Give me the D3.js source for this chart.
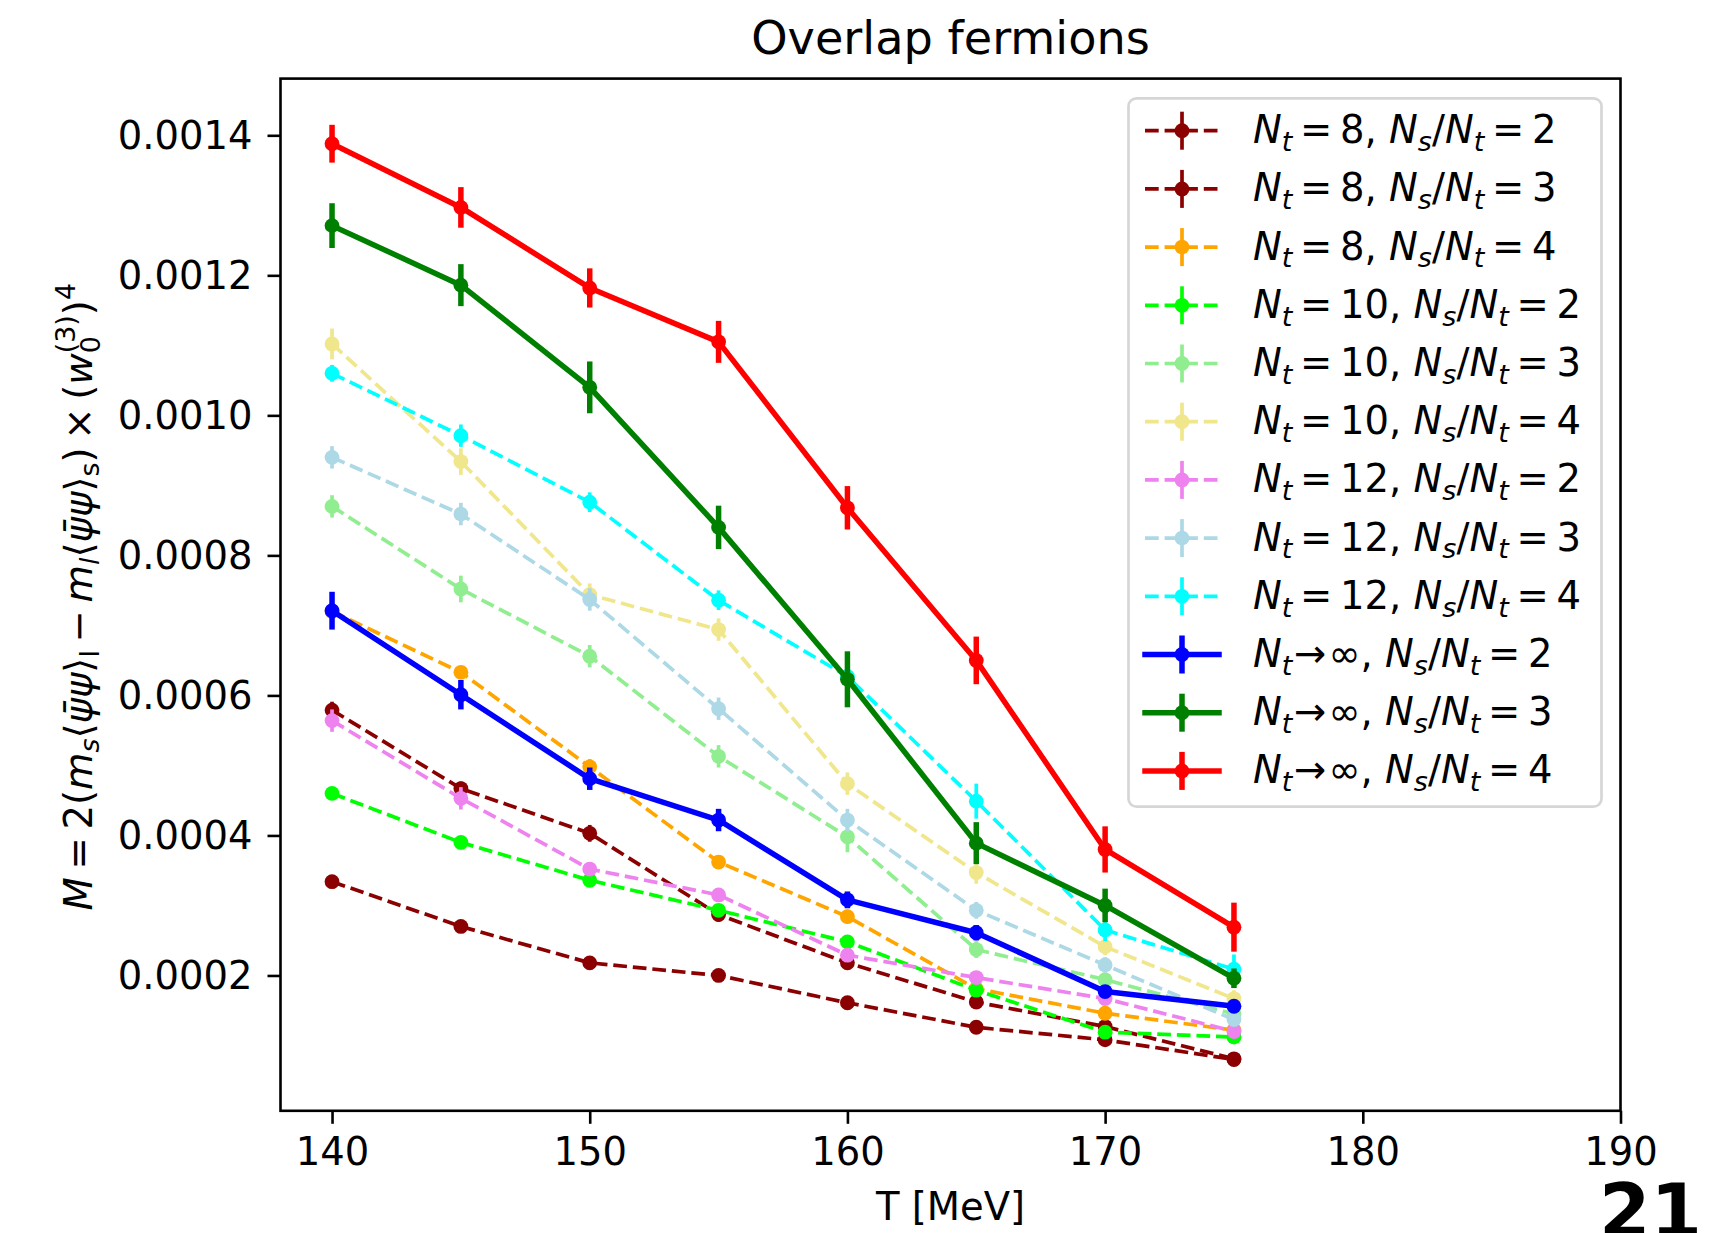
<!DOCTYPE html>
<html><head><meta charset="utf-8">
<script src="https://cdn.jsdelivr.net/npm/d3@7"></script>
<style>
body{margin:0;background:#fff}
svg{display:block}
text{font-family:"DejaVu Sans";fill:#000;white-space:pre}
</style>
</head><body>
<script>
// ---------------- data ----------------
const temperatures = [140, 145, 150, 155, 160, 165, 170, 175];

const nt8_r2     = [0.000334, 0.000270, 0.000218, 0.000200, 0.000161, 0.000126, 0.000108, 0.000080];
const nt8_r2_err = [0.000004, 0.000004, 0.000004, 0.000004, 0.000004, 0.000003, 0.000003, 0.000003];
const nt8_r3     = [0.000579, 0.000467, 0.000403, 0.000287, 0.000218, 0.000162, 0.000127, 0.000081];
const nt8_r3_err = [0.000012, 0.000010, 0.000012, 0.000010, 0.000008, 0.000006, 0.000005, 0.000005];
const nt8_r4     = [0.000720, 0.000633, 0.000498, 0.000362, 0.000284, 0.000181, 0.000146, 0.000122];
const nt8_r4_err = [0.000008, 0.000008, 0.000011, 0.000010, 0.000010, 0.000008, 0.000006, 0.000006];
const nt10_r2     = [0.000460, 0.000390, 0.000336, 0.000293, 0.000248, 0.000179, 0.000119, 0.000112];
const nt10_r2_err = [0.000006, 0.000006, 0.000006, 0.000006, 0.000006, 0.000006, 0.000006, 0.000006];
const nt10_r3     = [0.000870, 0.000752, 0.000656, 0.000513, 0.000398, 0.000237, 0.000194, 0.000145];
const nt10_r3_err = [0.000016, 0.000019, 0.000016, 0.000016, 0.000022, 0.000012, 0.000009, 0.000009];
const nt10_r4     = [0.001102, 0.000934, 0.000744, 0.000694, 0.000474, 0.000347, 0.000241, 0.000167];
const nt10_r4_err = [0.000022, 0.000019, 0.000016, 0.000016, 0.000016, 0.000016, 0.000012, 0.000012];
const nt12_r2     = [0.000564, 0.000453, 0.000352, 0.000315, 0.000229, 0.000197, 0.000167, 0.000120];
const nt12_r2_err = [0.000016, 0.000016, 0.000010, 0.000010, 0.000008, 0.000008, 0.000008, 0.000008];
const nt12_r3     = [0.000940, 0.000859, 0.000737, 0.000581, 0.000422, 0.000293, 0.000215, 0.000137];
const nt12_r3_err = [0.000016, 0.000016, 0.000016, 0.000016, 0.000016, 0.000012, 0.000011, 0.000009];
const nt12_r4     = [0.001060, 0.000971, 0.000876, 0.000736, 0.000627, 0.000449, 0.000265, 0.000209];
const nt12_r4_err = [0.000012, 0.000016, 0.000014, 0.000014, 0.000016, 0.000025, 0.000016, 0.000021];
const ntInf_r2     = [0.000721, 0.000601, 0.000481, 0.000422, 0.000308, 0.000261, 0.000177, 0.000156];
const ntInf_r2_err = [0.000027, 0.000021, 0.000016, 0.000016, 0.000012, 0.000011, 0.000008, 0.000008];
const ntInf_r3     = [0.001271, 0.001186, 0.001040, 0.000840, 0.000623, 0.000389, 0.000300, 0.000196];
const ntInf_r3_err = [0.000032, 0.000030, 0.000037, 0.000031, 0.000040, 0.000030, 0.000024, 0.000014];
const ntInf_r4     = [0.001388, 0.001297, 0.001182, 0.001105, 0.000868, 0.000650, 0.000380, 0.000269];
const ntInf_r4_err = [0.000027, 0.000029, 0.000028, 0.000030, 0.000031, 0.000034, 0.000033, 0.000035];

const legendNt    = ["8", "8", "8", "10", "10", "10", "12", "12", "12", "inf", "inf", "inf"];
const legendRatio = ["2", "3", "4", "2", "3", "4", "2", "3", "4", "2", "3", "4"];

const xTicks = [140, 150, 160, 170, 180, 190];
const yTicks = [0.0002, 0.0004, 0.0006, 0.0008, 0.0010, 0.0012, 0.0014];
const titleText = "Overlap fermions";
const xLabelText = "T [MeV]";
const pageNumber = "21";

// ---------------- styles ----------------
const seriesValues = [nt8_r2, nt8_r3, nt8_r4, nt10_r2, nt10_r3, nt10_r4, nt12_r2, nt12_r3, nt12_r4, ntInf_r2, ntInf_r3, ntInf_r4];
const seriesErrors = [nt8_r2_err, nt8_r3_err, nt8_r4_err, nt10_r2_err, nt10_r3_err, nt10_r4_err, nt12_r2_err, nt12_r3_err, nt12_r4_err, ntInf_r2_err, ntInf_r3_err, ntInf_r4_err];
const seriesColors = ["#8b0000", "#8b0000", "#ffa500", "#00ff00", "#90ee90", "#f0e68c", "#ee82ee", "#add8e6", "#00ffff", "#0000ff", "#008000", "#ff0000"];

const W = 1711, H = 1233;
const L = 280.5, R = 1620.5, TOP = 78.6, BOT = 1110.8;
const FS = 38.5;

const svg = d3.select("body").append("svg").attr("width", W).attr("height", H);

const x = d3.scaleLinear().domain([138, 190]).range([L, R]);
const y = d3.scaleLinear().domain([0.0000067, 0.001481]).range([BOT, TOP]);

// math-like text layout helper
function layout(g, segs, fs) {
  let cx = 0, held = null;
  segs.forEach(s => {
    cx += (s.pre || 0) * fs;
    const el = g.append("text")
      .attr("x", cx).attr("y", (s.dy || 0) * fs)
      .attr("font-size", fs * (s.sc || 1))
      .attr("font-style", s.it ? "italic" : "normal")
      .text(s.t);
    const w = el.node().getComputedTextLength();
    if (s.hold) { held = {x0: cx, w: w}; }
    else if (held) { cx = held.x0 + Math.max(held.w, w); held = null; }
    else cx += w;
    cx += (s.post || 0) * fs;
  });
  return cx;
}
const SUB = {sc: 0.7, dy: 0.2};
const sub = (t, it = true) => Object.assign({t, it}, SUB);
const rel = t => ({t, pre: 0.2, post: 0.2});

// ---------------- series ----------------
const plot = svg.append("g");
seriesValues.forEach((vals, si) => {
  const col = seriesColors[si];
  const solid = si >= 9;
  const lw = solid ? 5.5 : 3.7;
  const data = temperatures.map((t, i) => ({t, v: vals[i], e: seriesErrors[si][i]}));
  const line = d3.line().x(d => x(d.t)).y(d => y(d.v));
  const g = plot.append("g");
  g.append("path").datum(data).attr("d", line)
    .attr("fill", "none").attr("stroke", col).attr("stroke-width", lw)
    .attr("stroke-linejoin", "round")
    .attr("stroke-linecap", solid ? "square" : "butt")
    .attr("stroke-dasharray", solid ? null : "13.7,5.9");
  g.selectAll("line.err").data(data).join("line").attr("class", "err")
    .attr("x1", d => x(d.t)).attr("x2", d => x(d.t))
    .attr("y1", d => y(d.v - d.e)).attr("y2", d => y(d.v + d.e))
    .attr("stroke", col).attr("stroke-width", lw);
  g.selectAll("circle").data(data).join("circle")
    .attr("cx", d => x(d.t)).attr("cy", d => y(d.v)).attr("r", 7.4)
    .attr("fill", col);
});

// ---------------- axes ----------------
svg.append("rect").attr("x", L).attr("y", TOP).attr("width", R - L).attr("height", BOT - TOP)
  .attr("fill", "none").attr("stroke", "#000").attr("stroke-width", 2.6);

const xAxis = svg.append("g").attr("transform", `translate(0,${BOT})`)
  .call(d3.axisBottom(x).tickValues(xTicks).tickSize(13).tickPadding(14).tickFormat(d3.format("d")));
const yAxis = svg.append("g").attr("transform", `translate(${L},0)`)
  .call(d3.axisLeft(y).tickValues(yTicks).tickSize(13).tickPadding(15).tickFormat(d => d.toFixed(4)));
[xAxis, yAxis].forEach(a => {
  a.select(".domain").remove();
  a.selectAll(".tick line").attr("stroke", "#000").attr("stroke-width", 2.6);
  a.selectAll(".tick text").attr("font-family", "DejaVu Sans").attr("font-size", FS).attr("fill", "#000");
});
yAxis.selectAll(".tick text").attr("dy", "0.34em");

// title
svg.append("text").attr("x", (L + R) / 2).attr("y", 54).attr("text-anchor", "middle")
  .attr("font-size", 46.2).text(titleText);
// x label
svg.append("text").attr("x", (L + R) / 2).attr("y", 1220).attr("text-anchor", "middle")
  .attr("font-size", FS).text(xLabelText);

// y label (math)
const psibar = "\u03C8\u0304";
const ylab = [
  {t: "M", it: true}, rel("="), {t: "2("}, {t: "m", it: true}, sub("s"),
  {t: "\u27E8"}, {t: psibar, it: true}, {t: "\u03C8", it: true}, {t: "\u27E9"}, sub("l", false),
  rel("\u2212"), {t: "m", it: true}, sub("l"),
  {t: "\u27E8"}, {t: psibar, it: true}, {t: "\u03C8", it: true}, {t: "\u27E9"}, sub("s", false),
  {t: ")"}, rel("\u00D7"), {t: "("}, {t: "w", it: true},
  {t: "0", sc: 0.7, dy: 0.22, hold: true}, {t: "(3)", sc: 0.7, dy: -0.42},
  {t: ")"}, {t: "4", sc: 0.7, dy: -0.42}
];
const ylg = svg.append("g");
const ylInner = ylg.append("g");
const ylw = layout(ylInner, ylab, FS);
ylInner.attr("transform", `translate(${-ylw / 2},0)`);
ylg.attr("transform", `translate(91.5,${(TOP + BOT) / 2 + 2}) rotate(-90)`);

// ---------------- legend ----------------
const leg = svg.append("g");
leg.append("rect").attr("x", 1128.5).attr("y", 98.3).attr("width", 473).attr("height", 708.4)
  .attr("rx", 8).attr("fill", "#fff").attr("fill-opacity", 0.8)
  .attr("stroke", "#cccccc").attr("stroke-width", 2.7).attr("stroke-opacity", 0.8);
seriesColors.forEach((col, i) => {
  const cy = 130.7 + 58.2 * i;
  const solid = i >= 9;
  const lw = solid ? 5.5 : 3.7;
  const hx1 = 1145, hx2 = 1219, hc = 1182;
  leg.append("line").attr("x1", hx1).attr("x2", hx2).attr("y1", cy).attr("y2", cy)
    .attr("stroke", col).attr("stroke-width", lw)
    .attr("stroke-linecap", solid ? "square" : "butt")
    .attr("stroke-dasharray", solid ? null : "13.7,5.9");
  leg.append("line").attr("x1", hc).attr("x2", hc).attr("y1", cy - 19).attr("y2", cy + 19)
    .attr("stroke", col).attr("stroke-width", lw);
  leg.append("circle").attr("cx", hc).attr("cy", cy).attr("r", 7.4).attr("fill", col);
  const segs = [{t: "N", it: true}, sub("t")];
  if (legendNt[i] === "inf") {
    segs.push({t: "\u2192", pre: 0.04, post: 0.06}, {t: "\u221E"});
  } else {
    segs.push(rel("="), {t: legendNt[i]});
  }
  segs.push({t: ",", post: 0.318}, {t: "N", it: true}, sub("s"), {t: "/"}, {t: "N", it: true}, sub("t"),
    rel("="), {t: legendRatio[i]});
  const tg = leg.append("g").attr("transform", `translate(1253,${cy + 12.5})`);
  layout(tg, segs, FS);
});

// page number
svg.append("text").attr("x", 1599).attr("y", 1237).attr("font-family", "Liberation Sans")
  .attr("font-weight", "bold").attr("font-size", 74).text(pageNumber);
</script>
</body></html>
